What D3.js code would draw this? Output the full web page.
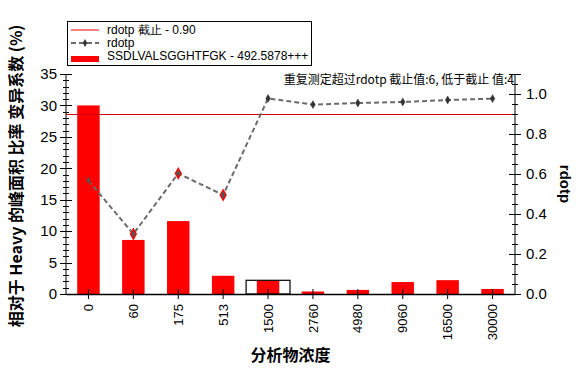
<!DOCTYPE html>
<html>
<head>
<meta charset="utf-8">
<script src="https://cdn.jsdelivr.net/npm/d3@7"></script>
<style>
  body { margin: 0; background: #fff; }
  text { font-family: "Liberation Sans", Arial, sans-serif; }
</style>
</head>
<body>
<div id="main"></div>
<script>
const ctx = { w: 582, h: 376 };
const margin = { top: 74, right: 67, bottom: 82, left: 66 };

// data
const concentrations = ['0', '60', '175', '513', '1500', '2760', '4980', '9060', '16500', '30000'];
const cvValues = [30.0, 8.6, 11.6, 2.9, 2.1, 0.4, 0.65, 1.9, 2.2, 0.8];
const rdotpValues = [0.567, 0.30, 0.603, 0.495, 0.978, 0.947, 0.955, 0.96, 0.97, 0.977];
const cutoff = 0.90;
const selectedIdx = 4; // 1500 has outline box
const leftTicks = [0, 5, 10, 15, 20, 25, 30, 35];
const rightTicks = [0, 0.2, 0.4, 0.6, 0.8, 1.0];

const legendLabels = ['rdotp 截止 - 0.90', 'rdotp', 'SSDLVALSGGHTFGK - 492.5878+++'];
const annotation = '重复测定超过rdotp 截止值:6, 低于截止 值:4';

const iw = ctx.w - margin.left - margin.right;
const ih = ctx.h - margin.top - margin.bottom;

const svg = d3.select("#main").append("svg")
    .attr("width", ctx.w)
    .attr("height", ctx.h);

const g = svg.append("g").attr("transform", `translate(${margin.left},${margin.top})`);

const x = d3.scaleBand().domain(concentrations).range([0, iw]);
const yL = d3.scaleLinear().domain([0, 35]).range([ih, 0]);
const yR = d3.scaleLinear().domain([0, 1.1]).range([ih, 0]);

// bars
g.append("g").selectAll("rect")
    .data(concentrations)
    .enter().append("rect")
    .attr("x", (d, i) => x(d) + x.bandwidth() * 0.25)
    .attr("y", (d, i) => yL(cvValues[i]))
    .attr("width", x.bandwidth() * 0.5)
    .attr("height", (d, i) => yL(0) - yL(cvValues[i]))
    .attr("fill", "#ff0000");

// outlined box around the selected one
g.append("rect")
    .attr("x", x(concentrations[selectedIdx]) + 0.5)
    .attr("y", yL(cvValues[selectedIdx]) - 0.5)
    .attr("width", x.bandwidth() - 1)
    .attr("height", yL(0) - yL(cvValues[selectedIdx]) + 0.5)
    .attr("fill", "none")
    .attr("stroke", "#000")
    .attr("stroke-width", 1.2);

// cutoff line
g.append("line")
    .attr("x1", 0).attr("x2", iw)
    .attr("y1", Math.round(yR(cutoff)) + 0.5).attr("y2", Math.round(yR(cutoff)) + 0.5)
    .attr("stroke", "#d00000").attr("stroke-width", 1);

// rdotp line
const line = d3.line()
    .x((d, i) => x(concentrations[i]) + x.bandwidth() / 2)
    .y(d => yR(d));
g.append("path")
    .datum(rdotpValues)
    .attr("d", line)
    .attr("fill", "none")
    .attr("stroke", "#6b6b6b")
    .attr("stroke-width", 2)
    .attr("stroke-dasharray", "5,3");

const diamond = d3.symbol().type(d3.symbolDiamond);
g.append("g").selectAll("path")
    .data(rdotpValues)
    .enter().append("path")
    .attr("transform", (d, i) => `translate(${x(concentrations[i]) + x.bandwidth() / 2},${yR(d)})`)
    .attr("d", d => diamond.size(d < cutoff ? 30 : 18)())
    .attr("fill", d => d < cutoff ? "#555" : "#333")
    .attr("stroke", d => d < cutoff ? "#ff0000" : "#333")
    .attr("stroke-width", d => d < cutoff ? 1.3 : 0.5);

// axes
function tickAxis(sel, scale, majors, minorStep, side) {
    const x0 = side === 'left' ? 0 : iw;
    sel.append("line")
        .attr("x1", x0).attr("x2", x0)
        .attr("y1", 0).attr("y2", ih)
        .attr("stroke", "#000");
    const dom = scale.domain();
    const minors = d3.range(dom[0], dom[1] + 1e-9, minorStep);
    sel.selectAll("line.minor").data(minors).enter().append("line")
        .attr("class", "minor")
        .attr("x1", x0 - 3).attr("x2", x0 + 3)
        .attr("y1", d => Math.round(scale(d)) + 0.5).attr("y2", d => Math.round(scale(d)) + 0.5)
        .attr("stroke", "#000");
    sel.selectAll("line.major").data(majors).enter().append("line")
        .attr("class", "major")
        .attr("x1", x0 - 6).attr("x2", x0 + 6)
        .attr("y1", d => Math.round(scale(d)) + 0.5).attr("y2", d => Math.round(scale(d)) + 0.5)
        .attr("stroke", "#000");
    // extra tick at the axis end
    sel.append("line")
        .attr("x1", x0 - 6).attr("x2", x0 + 6)
        .attr("y1", 0.5).attr("y2", 0.5)
        .attr("stroke", "#000");
}

const leftG = g.append("g");
tickAxis(leftG, yL, leftTicks, 1, 'left');
leftG.selectAll("text").data(leftTicks).enter().append("text")
    .attr("x", -9).attr("y", d => yL(d))
    .attr("dy", "0.35em")
    .attr("text-anchor", "end")
    .style("font-size", "15px")
    .text(d => d);

const rightG = g.append("g");
tickAxis(rightG, yR, rightTicks, 0.05, 'right');
rightG.selectAll("text").data(rightTicks).enter().append("text")
    .attr("x", iw + 11).attr("y", d => yR(d))
    .attr("dy", "0.35em")
    .attr("text-anchor", "start")
    .style("font-size", "15px")
    .text(d => d.toFixed(1));

// bottom axis
const xAxis = g.append("g")
    .attr("transform", `translate(0,${ih})`)
    .call(d3.axisBottom(x).tickSize(0).tickPadding(0).tickFormat(""));
xAxis.select(".domain").attr("stroke", "#000").attr("stroke-width", 1.5);
g.append("g").selectAll("line").data(concentrations).enter().append("line")
    .attr("x1", d => x(d) + x.bandwidth() / 2).attr("x2", d => x(d) + x.bandwidth() / 2)
    .attr("y1", ih - 5).attr("y2", ih + 5)
    .attr("stroke", "#000");
g.append("g").selectAll("text").data(concentrations).enter().append("text")
    .attr("transform", d => `translate(${x(d) + x.bandwidth() / 2},${ih + 10}) rotate(-90)`)
    .attr("text-anchor", "end")
    .attr("dy", "0.35em")
    .style("font-size", "13px")
    .text(d => d);

// annotation
g.append("text")
    .attr("x", iw - 1).attr("y", 10)
    .attr("text-anchor", "end")
    .style("font-size", "12px")
    .style("font-family", "'Noto Sans CJK SC', sans-serif")
    .text(annotation);

// axis titles
svg.append("text")
    .attr("transform", `translate(22,${margin.top + ih / 2 - 8}) rotate(-90)`)
    .attr("text-anchor", "middle")
    .style("font-size", "16px")
    .style("font-weight", "bold")
    .style("font-family", "'Noto Sans CJK SC', sans-serif")
    .text("相对于 Heavy 的峰面积 比率 变异系数 (%)");

svg.append("text")
    .attr("transform", `translate(560,${margin.top + 110}) rotate(90)`)
    .attr("text-anchor", "middle")
    .style("font-size", "15px")
    .style("font-weight", "bold")
    .text("rdotp");

svg.append("text")
    .attr("x", margin.left + iw / 2).attr("y", 361)
    .attr("text-anchor", "middle")
    .style("font-size", "16px")
    .style("font-weight", "bold")
    .style("font-family", "'Noto Sans CJK SC', sans-serif")
    .text("分析物浓度");

// legend
const leg = svg.append("g").attr("transform", "translate(67,21)");
leg.append("rect")
    .attr("x", 0.5).attr("y", 0.5)
    .attr("width", 244).attr("height", 44)
    .attr("fill", "#fff").attr("stroke", "#000");
leg.append("line")
    .attr("x1", 4).attr("x2", 32).attr("y1", 9).attr("y2", 9)
    .attr("stroke", "#ff0000");
leg.append("line")
    .attr("x1", 4).attr("x2", 32).attr("y1", 22).attr("y2", 22)
    .attr("stroke", "#6b6b6b").attr("stroke-width", 2).attr("stroke-dasharray", "5,3");
leg.append("path")
    .attr("transform", "translate(18,22)")
    .attr("d", diamond.size(18)())
    .attr("fill", "#333");
leg.append("rect")
    .attr("x", 4).attr("y", 35).attr("width", 28).attr("height", 6)
    .attr("fill", "#ff0000");
leg.selectAll("text.lab").data(legendLabels).enter().append("text")
    .attr("class", "lab")
    .attr("x", 40).attr("y", (d, i) => 9 + i * 13)
    .attr("dy", "0.35em")
    .style("font-size", "12px")
    .text(d => d);
</script>
</body>
</html>
